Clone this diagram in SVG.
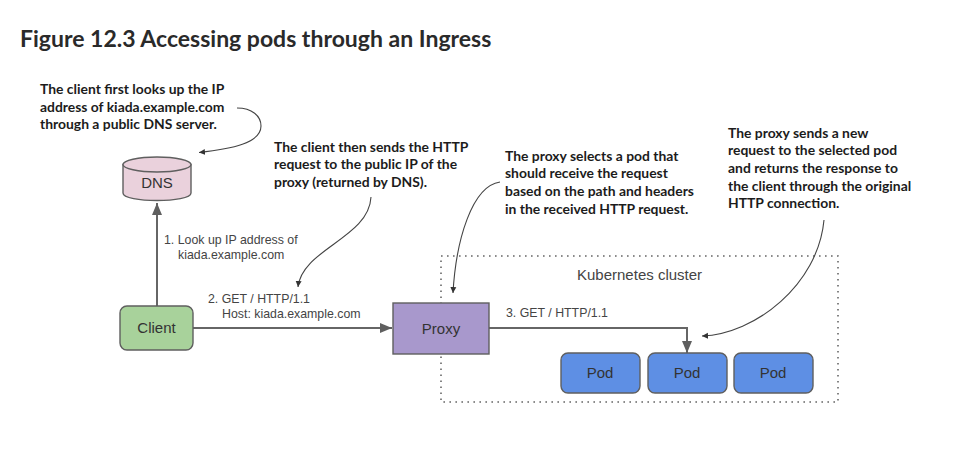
<svg xmlns="http://www.w3.org/2000/svg" width="969" height="474" viewBox="0 0 969 474">
<style>
.t{font-family:"Lato","Liberation Sans",sans-serif;font-weight:700;font-size:13.9px;fill:#1c1c1c}
.l{font-family:"Liberation Sans",Arial,sans-serif;font-size:12.35px;fill:#444}
.n{font-family:"Liberation Sans",Arial,sans-serif;font-size:15px;fill:#333;text-anchor:middle}
.s{stroke:#5f5f5f;stroke-width:1.4}
.c{fill:none;stroke:#444;stroke-width:1.1}
.f{fill:none;stroke:#666;stroke-width:2}
</style>
<defs>
<marker id="big" markerUnits="userSpaceOnUse" markerWidth="13" markerHeight="12" refX="12" refY="6" orient="auto"><path d="M0,1 L12,6 L0,11 Z" fill="#5f5f5f"/></marker>
<marker id="small" markerUnits="userSpaceOnUse" markerWidth="8" markerHeight="8" refX="6" refY="4" orient="auto"><path d="M0,1 L6,4 L0,7 Z" fill="#333"/></marker>
</defs>
<rect width="969" height="474" fill="#fff"/>
<text x="20" y="47" style="font-family:Lato,'Liberation Sans',sans-serif;font-weight:700;font-size:23px;fill:#2a2a2a">Figure 12.3 Accessing pods through an Ingress</text>
<g id="cluster"><rect x="441" y="256" width="397" height="146" fill="none" stroke="#666" stroke-width="1.6" stroke-dasharray="1.6 4.4"/><text class="l" x="577" y="280" style="font-size:15px">Kubernetes cluster</text></g>
<g id="connectors">
<path class="f" d="M157 306V203" marker-end="url(#big)"/>
<path class="f" d="M193 328H392" marker-end="url(#big)"/>
<path class="f" d="M489 328H687V353" marker-end="url(#big)"/>
<path class="c" d="M237 108C252 108 261 116 261 126C261 143 232 149 199 152.500" marker-end="url(#small)"/>
<path class="c" d="M371 197C369 238 302 249 298 287" marker-end="url(#small)"/>
<path class="c" d="M500 182C472 186 456 240 453 293" marker-end="url(#small)"/>
<path class="c" d="M824 220C818 285 755 334 702 336" marker-end="url(#small)"/>
</g>
<g id="dns">
<path d="M123 164.500V193C123 203 191 203 191 193V164.500Z" fill="#ead1dc" class="s"/>
<ellipse cx="157" cy="164.500" rx="34" ry="7.500" fill="#ead1dc" class="s"/>
<text class="n" x="157" y="188">DNS</text>
</g>
<g id="client"><rect x="120" y="306" width="73" height="44" rx="7" class="s" style="fill:#a8d29b"/><text class="n" x="156.500" y="333">Client</text></g>
<g id="proxy"><rect x="393" y="303" width="96" height="51" fill="#a898cc" class="s"/><text class="n" x="441" y="334">Proxy</text></g>
<g id="pod1"><rect x="561" y="353" width="79" height="40" rx="7" fill="#5e8fe4" class="s"/><text class="n" x="600" y="378">Pod</text></g>
<g id="pod2"><rect x="648" y="353" width="79" height="40" rx="7" fill="#5e8fe4" class="s"/><text class="n" x="687" y="378">Pod</text></g>
<g id="pod3"><rect x="734" y="353" width="79" height="40" rx="7" fill="#5e8fe4" class="s"/><text class="n" x="773" y="378">Pod</text></g>
<g id="labels">
<text class="l"><tspan x="164" y="244">1. Look up IP address of</tspan><tspan x="178" y="259">kiada.example.com</tspan></text>
<text class="l"><tspan x="208" y="303">2. GET / HTTP/1.1</tspan><tspan x="222" y="318">Host: kiada.example.com</tspan></text>
<text class="l" x="506" y="317">3. GET / HTTP/1.1</text>
</g>
<g id="notes">
<text class="t"><tspan x="40" y="93.700">The client first looks up the IP</tspan><tspan x="40" y="111.500">address of kiada.example.com</tspan><tspan x="40" y="129">through a public DNS server.</tspan></text>
<text class="t"><tspan x="274" y="151.700">The client then sends the HTTP</tspan><tspan x="274" y="169">request to the public IP of the</tspan><tspan x="274" y="186.700">proxy (returned by DNS).</tspan></text>
<text class="t"><tspan x="505" y="160.700">The proxy selects a pod that</tspan><tspan x="505" y="178.300">should receive the request</tspan><tspan x="505" y="196">based on the path and headers</tspan><tspan x="505" y="213.700">in the received HTTP request.</tspan></text>
<text class="t"><tspan x="728" y="137.700">The proxy sends a new</tspan><tspan x="728" y="155.300">request to the selected pod</tspan><tspan x="728" y="173">and returns the response to</tspan><tspan x="728" y="190.700">the client through the original</tspan><tspan x="728" y="208.300">HTTP connection.</tspan></text>
</g>
</svg>
